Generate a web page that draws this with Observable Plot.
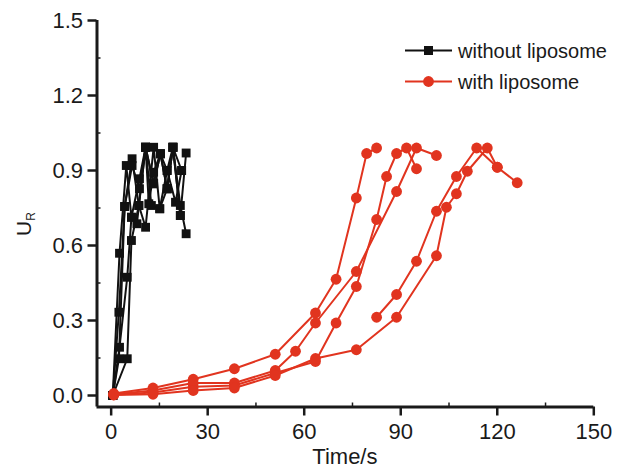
<!DOCTYPE html>
<html>
<head>
<meta charset="utf-8">
<script src="https://cdn.jsdelivr.net/npm/d3@7"></script>
<script src="https://cdn.jsdelivr.net/npm/@observablehq/plot@0.6"></script>
<style>
  html, body { margin: 0; padding: 0; background: #fff; }
  #wrap { position: relative; width: 638px; height: 468px; }
  #legend { position: absolute; left: 0; top: 0; pointer-events: none; }
</style>
</head>
<body>
<div id="wrap"></div>
<script>
// ---- data ----
const seriesNames = ["without liposome", "with liposome"];
const colors = ["#111111", "#e1341f"];

// without liposome (black squares), five repeated runs
const blackT = [
  [0.5, 2.6, 4.7, 6.3, 8.8, 10.7, 13.2, 15.3, 17.4, 19.2, 21.5, 23.3],
  [0.5, 2.4, 4.2, 6.5, 8.6, 10.7, 13.2, 15.1, 17.4, 20.0, 21.9],
  [0.5, 2.6, 5.0, 6.3, 8.0, 10.7, 11.7, 13.2, 15.3, 17.4, 19.2, 21.5, 23.3],
  [0.5, 5.0, 6.3, 8.6, 10.7, 12.5, 15.1, 17.4, 19.2, 21.5],
  [0.5, 2.4, 4.2, 6.5, 8.8, 10.7, 13.2, 15.3, 17.4, 19.2, 21.9]
];
const blackU = [
  [0, 0.569, 0.92, 0.713, 0.867, 0.993, 0.847, 0.967, 0.827, 0.993, 0.72, 0.97],
  [0, 0.333, 0.756, 0.947, 0.76, 0.673, 0.993, 0.747, 0.9, 0.773, 0.9],
  [0, 0.193, 0.473, 0.713, 0.687, 0.993, 0.767, 0.893, 0.967, 0.827, 0.993, 0.76, 0.647],
  [0, 0.147, 0.62, 0.76, 0.993, 0.76, 0.747, 0.827, 0.993, 0.72],
  [0, 0.147, 0.756, 0.92, 0.827, 0.993, 0.847, 0.967, 0.9, 0.993, 0.9]
];

// with liposome (red circles), five runs
const redT = [
  [0.8, 13, 25.5, 38.3, 51, 63.5, 69.9, 76.2, 79.4, 82.5],
  [0.8, 13, 25.5, 38.3, 51, 63.5, 69.9, 76.2, 82.5, 85.6, 88.7, 91.8, 94.9],
  [0.8, 13, 25.5, 38.3, 51, 57.3, 63.5, 76.2, 88.7, 94.9, 101.1],
  [82.5, 88.7, 94.9, 101.1, 107.3, 113.6, 120, 126.2],
  [0.8, 13, 25.5, 38.3, 51, 63.5, 76.2, 88.7, 101.1, 104.2, 107.3, 110.7, 116.9, 120]
];
const redU = [
  [0.008, 0.03, 0.065, 0.107, 0.165, 0.33, 0.465, 0.79, 0.968, 0.99],
  [0.003, 0.012, 0.035, 0.04, 0.09, 0.136, 0.29, 0.436, 0.704, 0.876, 0.968, 0.99, 0.907],
  [0.005, 0.02, 0.05, 0.05, 0.1, 0.177, 0.29, 0.496, 0.816, 0.99, 0.96],
  [0.313, 0.404, 0.537, 0.737, 0.876, 0.99, 0.913, 0.851],
  [0.002, 0.005, 0.02, 0.03, 0.08, 0.148, 0.183, 0.313, 0.559, 0.753, 0.807, 0.897, 0.99, 0.913]
];

const xTicks = [0, 30, 60, 90, 120, 150];
const xMinor = [15, 45, 75, 105, 135];
const yTicks = [0, 0.3, 0.6, 0.9, 1.2, 1.5];
const yMinor = [0.15, 0.45, 0.75, 1.05, 1.35];
const xDomain = [-4.4, 150];
const yDomain = [-0.046, 1.5];

// ---- build tables ----
function table(Ts, Us, group) {
  const rows = [];
  Ts.forEach((ts, i) => ts.forEach((t, j) => rows.push({t, u: Us[i][j], run: group + i})));
  return rows;
}
const black = table(blackT, blackU, "k");
const red = table(redT, redU, "r");

const font = "'Liberation Sans', Arial, Helvetica, sans-serif";
const ink = "#1a1a1a";

const chart = Plot.plot({
  width: 638,
  height: 468,
  marginLeft: 96.5,
  marginRight: 44.7,
  marginTop: 20,
  marginBottom: 61.5,
  style: {fontFamily: font, background: "#fff", color: ink, overflow: "visible"},
  x: {domain: xDomain},
  y: {domain: yDomain},
  marks: [
    // major ticks (outward) with labels
    Plot.axisX({ticks: xTicks, tickSize: 9, tickPadding: 7, strokeWidth: 2.5, fontSize: 22, label: null, tickFormat: d3.format("d"), stroke: ink, fill: ink}),
    Plot.axisY({ticks: yTicks, tickSize: 9, tickPadding: 5, strokeWidth: 2.5, fontSize: 22, label: null, tickFormat: d3.format(".1f"), stroke: ink, fill: ink}),
    // minor ticks (inward)
    Plot.axisX({ticks: xMinor, tickSize: 4, dy: -4, strokeWidth: 1.5, tickFormat: () => "", label: null, stroke: ink}),
    Plot.axisY({ticks: yMinor, tickSize: 4, dx: 4, strokeWidth: 1.5, tickFormat: () => "", label: null, stroke: ink}),
    // axis lines
    Plot.ruleX([xDomain[0]], {stroke: ink, strokeWidth: 3}),
    Plot.ruleY([yDomain[0]], {stroke: ink, strokeWidth: 3}),
    // without liposome
    Plot.line(black, {x: "t", y: "u", z: "run", stroke: colors[0], strokeWidth: 2}),
    Plot.dot(black, {x: "t", y: "u", symbol: "square", r: 5, fill: colors[0], stroke: "none"}),
    // with liposome
    Plot.line(red, {x: "t", y: "u", z: "run", stroke: colors[1], strokeWidth: 2}),
    Plot.dot(red, {x: "t", y: "u", r: 5.4, fill: colors[1], stroke: "none"})
  ]
});

const wrap = document.getElementById("wrap");
wrap.appendChild(chart);

// axis titles
const svg = d3.select(chart);
svg.append("text")
  .attr("x", (96.5 + 638 - 44.7) / 2)
  .attr("y", 464)
  .attr("text-anchor", "middle")
  .attr("font-family", font)
  .attr("font-size", 22)
  .attr("fill", ink)
  .text("Time/s");

const yl = svg.append("text")
  .attr("transform", "translate(31,224) rotate(-90)")
  .attr("font-family", font)
  .attr("font-size", 21)
  .attr("fill", ink);
yl.append("tspan").text("U");
yl.append("tspan").attr("font-size", 12).attr("dy", 4).text("R");

// legend (overlay inside plot area)
const leg = d3.select(wrap).append("svg")
  .attr("id", "legend")
  .attr("width", 638).attr("height", 468);
const rowsY = [50.5, 81.5];
seriesNames.forEach((name, i) => {
  const g = leg.append("g");
  const y = rowsY[i];
  g.append("line").attr("x1", 405).attr("x2", 452).attr("y1", y).attr("y2", y)
    .attr("stroke", colors[i]).attr("stroke-width", 2);
  if (i === 0) {
    g.append("rect").attr("x", 428.5 - 4.5).attr("y", y - 4.5).attr("width", 9).attr("height", 9).attr("fill", colors[i]);
  } else {
    g.append("circle").attr("cx", 428.5).attr("cy", y).attr("r", 5.4).attr("fill", colors[i]);
  }
  g.append("text").attr("x", 458).attr("y", y).attr("dy", "0.35em")
    .attr("font-family", font).attr("font-size", 20).attr("fill", ink).text(name);
});
</script>
</body>
</html>
